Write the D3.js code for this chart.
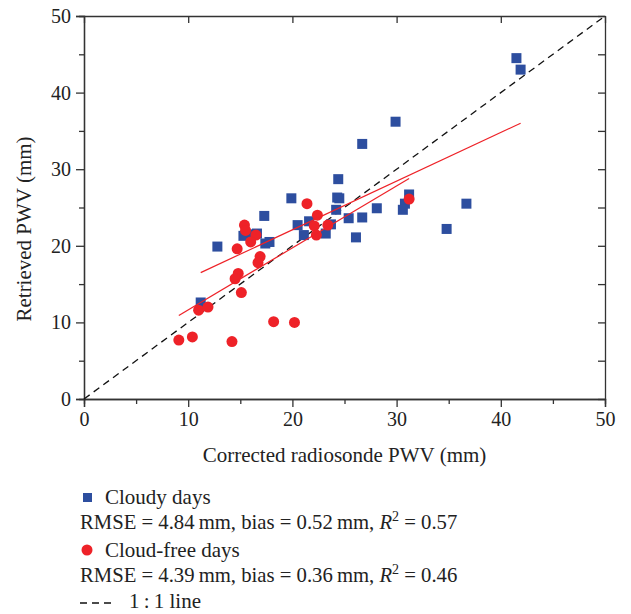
<!DOCTYPE html>
<html>
<head>
<meta charset="utf-8">
<script src="https://cdn.jsdelivr.net/npm/d3@7"></script>
<style>
  body { margin: 0; background: #fff; }
  text { font-family: "Liberation Serif", "DejaVu Serif", serif; fill: #222; }
</style>
</head>
<body>
<div id="scatter"></div>
<script>
// Cloudy days (corrected radiosonde PWV, retrieved PWV), mm
var cloudyX = [41.5, 41.9, 29.9, 26.7, 24.4, 36.7, 31.2, 30.8, 30.6, 34.8, 28.1, 26.7, 25.4, 26.1, 24.3, 24.5,
    24.2, 19.9, 20.5, 21.6, 23.7, 23.2, 21.1, 17.3, 16.6, 17.4, 17.8, 12.8, 11.2, 15.3, 16.2];
var cloudyY = [44.5, 43.0, 36.2, 33.3, 28.7, 25.5, 26.7, 25.5, 24.7, 22.2, 24.9, 23.7, 23.6, 21.1, 26.3, 26.2,
    24.7, 26.2, 22.7, 23.2, 22.8, 21.6, 21.4, 23.9, 21.6, 20.3, 20.5, 19.9, 12.6, 21.3, 21.5];

// Cloud-free days
var clearX = [31.2, 21.4, 22.4, 22.1, 22.3, 23.4, 15.4, 15.5, 16.5, 16.0, 14.7, 16.9, 16.7, 14.8, 14.5, 15.1,
    11.0, 11.9, 9.1, 10.4, 14.2, 18.2, 20.2];
var clearY = [26.1, 25.5, 24.0, 22.6, 21.4, 22.7, 22.7, 22.0, 21.4, 20.5, 19.6, 18.6, 17.8, 16.4, 15.7, 13.9,
    11.6, 12.0, 7.7, 8.1, 7.5, 10.1, 10.0];

// fitted lines, [x0, y0, x1, y1]
var fitCloudy = [11.2, 16.5, 41.9, 36.0];
var fitClear = [9.1, 10.9, 31.2, 28.8];

var majorTicks = [0, 10, 20, 30, 40, 50];
var minorTicks = [5, 15, 25, 35, 45];

var legendRows = [
    {name: "Cloudy days", rmse: "4.84", bias: "0.52", r2: "0.57"},
    {name: "Cloud-free days", rmse: "4.39", bias: "0.36", r2: "0.46"}
];

var blue = "#2d4e9f";
var red = "#ee2228";

var width = 631, height = 614;
var margin = {top: 16, right: 26, bottom: 215, left: 84};
var w = width - margin.left - margin.right,
    h = height - margin.top - margin.bottom;

var svg = d3.select("#scatter")
    .append("svg")
    .attr("width", width)
    .attr("height", height);

var g = svg.append("g")
    .attr("transform", "translate(" + margin.left + "," + margin.top + ")");

var x = d3.scaleLinear().domain([0, 50]).range([0, w]);
var y = d3.scaleLinear().domain([0, 50]).range([h, 0]);

function styleAxis(sel) {
    sel.selectAll("path, line").attr("stroke", "#333").attr("stroke-width", 1.3);
    sel.selectAll("text").attr("font-size", 20).attr("fill", "#222")
        .style("font-family", "'Liberation Serif', serif");
}

// minor ticks first, then labelled major ticks
g.append("g")
    .attr("transform", "translate(0," + h + ")")
    .call(d3.axisBottom(x).tickValues(minorTicks).tickSize(5).tickFormat(""))
    .call(styleAxis);
g.append("g")
    .attr("transform", "translate(0," + h + ")")
    .call(d3.axisBottom(x).tickValues(majorTicks).tickSize(8).tickPadding(5).tickFormat(d3.format("d")))
    .call(styleAxis);
g.append("g")
    .call(d3.axisLeft(y).tickValues(minorTicks).tickSize(5).tickFormat(""))
    .call(styleAxis);
g.append("g")
    .call(d3.axisLeft(y).tickValues(majorTicks).tickSize(8).tickPadding(5).tickFormat(d3.format("d")))
    .call(styleAxis);

// top and right: inward ticks, no labels
g.append("g")
    .call(d3.axisBottom(x).tickValues(majorTicks).tickSize(7).tickFormat("").tickSizeOuter(0))
    .call(styleAxis);
g.append("g")
    .attr("transform", "translate(" + w + ",0)")
    .call(d3.axisLeft(y).tickValues(majorTicks.concat(minorTicks)).tickSize(7).tickFormat("").tickSizeOuter(0))
    .call(styleAxis);

// 1:1 line
g.append("line")
    .attr("x1", x(0)).attr("y1", y(0))
    .attr("x2", x(50)).attr("y2", y(50))
    .attr("stroke", "#111")
    .attr("stroke-width", 1.3)
    .attr("stroke-dasharray", "7,5");

var cloudy = cloudyX.map(function(d, i) { return [d, cloudyY[i]]; });
var clear = clearX.map(function(d, i) { return [d, clearY[i]]; });

var sq = 10;
g.selectAll(".cloudy")
    .data(cloudy)
    .enter().append("rect")
    .attr("class", "cloudy")
    .attr("x", function(d) { return x(d[0]) - sq / 2; })
    .attr("y", function(d) { return y(d[1]) - sq / 2; })
    .attr("width", sq).attr("height", sq)
    .attr("fill", blue);

g.selectAll(".clear")
    .data(clear)
    .enter().append("circle")
    .attr("class", "clear")
    .attr("cx", function(d) { return x(d[0]); })
    .attr("cy", function(d) { return y(d[1]); })
    .attr("r", 5.5)
    .attr("fill", red);

// regression lines
[fitCloudy, fitClear].forEach(function(f) {
    g.append("line")
        .attr("x1", x(f[0])).attr("y1", y(f[1]))
        .attr("x2", x(f[2])).attr("y2", y(f[3]))
        .attr("stroke", red)
        .attr("stroke-width", 1.2);
});

// axis titles
svg.append("text")
    .attr("x", margin.left + w / 2)
    .attr("y", 462)
    .attr("text-anchor", "middle")
    .attr("font-size", 21)
    .text("Corrected radiosonde PWV (mm)");

svg.append("text")
    .attr("transform", "translate(31,229) rotate(-90)")
    .attr("text-anchor", "middle")
    .attr("font-size", 21)
    .text("Retrieved PWV (mm)");

// legend
var leg = svg.append("g");
leg.append("rect").attr("x", 83).attr("y", 493).attr("width", 9).attr("height", 9).attr("fill", blue);
leg.append("circle").attr("cx", 87).attr("cy", 550).attr("r", 5.5).attr("fill", red);

legendRows.forEach(function(r, i) {
    var y0 = 504 + i * 53;
    leg.append("text").attr("x", 105).attr("y", y0).attr("font-size", 21).text(r.name);
    var t = leg.append("text").attr("x", 80).attr("y", y0 + 25).attr("font-size", 20.7);
    t.append("tspan").text("RMSE = " + r.rmse + "\u2009mm, bias = " + r.bias + "\u2009mm, ");
    t.append("tspan").attr("font-style", "italic").text("R");
    t.append("tspan").attr("font-size", 14).attr("dy", -8).text("2");
    t.append("tspan").attr("dy", 8).text(" = " + r.r2);
});

leg.append("line")
    .attr("x1", 80).attr("y1", 603).attr("x2", 113).attr("y2", 603)
    .attr("stroke", "#111").attr("stroke-width", 1.3).attr("stroke-dasharray", "7,5");
leg.append("text").attr("x", 129).attr("y", 608).attr("font-size", 21).text("1\u2009:\u20091 line");
</script>
</body>
</html>
